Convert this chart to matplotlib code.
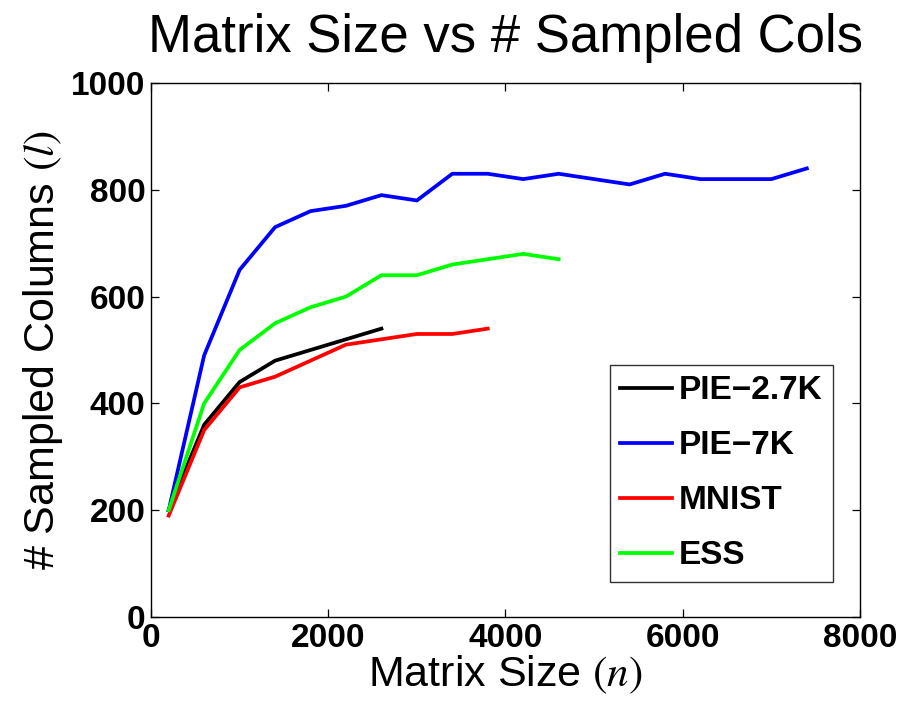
import numpy as np
import matplotlib
matplotlib.use('Agg')
import matplotlib.pyplot as plt

# matrix size n for each run
n_pie27 = [200, 600, 1000, 1400, 1800, 2200, 2600]
l_pie27 = [200, 360, 440, 480, 500, 520, 540]

n_pie7 = [200, 600, 1000, 1400, 1800, 2200, 2600, 3000, 3400, 3800, 4200,
          4600, 5000, 5400, 5800, 6200, 6600, 7000, 7400]
l_pie7 = [200, 490, 650, 730, 760, 770, 790, 780, 830, 830, 820,
          830, 820, 810, 830, 820, 820, 820, 840]

n_mnist = [200, 600, 1000, 1400, 1800, 2200, 2600, 3000, 3400, 3800]
l_mnist = [190, 350, 430, 450, 480, 510, 520, 530, 530, 540]

n_ess = [200, 600, 1000, 1400, 1800, 2200, 2600, 3000, 3400, 3800, 4200, 4600]
l_ess = [200, 400, 500, 550, 580, 600, 640, 640, 660, 670, 680, 670]

labels = ['PIE\u22122.7K', 'PIE\u22127K', 'MNIST', 'ESS']

plt.rcParams['font.family'] = ['Liberation Sans', 'DejaVu Sans']
plt.rcParams['mathtext.fontset'] = 'stix'

hf1 = plt.figure(figsize = (9.03, 7.05), facecolor = 'w', dpi = 100)
ax = hf1.add_axes([0.1672, 0.1248, 0.7852, 0.7575])

ax.plot(n_pie27, l_pie27, c = 'k', lw = 2.7, label = labels[0])
ax.plot(n_pie7, l_pie7, c = 'b', lw = 2.7, label = labels[1])
ax.plot(n_mnist, l_mnist, c = 'r', lw = 2.7, label = labels[2])
ax.plot(n_ess, l_ess, c = (0, 1, 0), lw = 2.7, label = labels[3])

ax.set_xlim(0, 8000)
ax.set_ylim(0, 1000)
ax.set_xticks([0, 2000, 4000, 6000, 8000])
ax.set_yticks([0, 200, 400, 600, 800, 1000])
ax.tick_params(direction = 'in', top = True, right = True, length = 6, width = 0.9,
               labelsize = 24, pad = 4)
for t in ax.get_xticklabels() + ax.get_yticklabels():
	t.set_fontweight('bold')
for s in ax.spines.values():
	s.set_linewidth(1.0)

ax.set_title('Matrix Size vs # Sampled Cols', fontsize = 38, pad = 22)
ax.set_xlabel(r'Matrix Size $(\mathit{n})$', fontsize = 31, labelpad = 0)
ax.set_ylabel(r'# Sampled Columns $(\mathit{l})$', fontsize = 31, labelpad = 4)

leg = ax.legend(loc = 'lower right', bbox_to_anchor = (0.962, 0.0655),
                borderaxespad = 0, fancybox = False, frameon = True,
                prop = {'weight': 'bold', 'size': 24}, handlelength = 1.55,
                handletextpad = 0.2, labelspacing = 0.72, borderpad = 0.32)
leg.get_frame().set_edgecolor('k')
leg.get_frame().set_linewidth(1.0)

hf1.savefig('out.png')
plt.close(hf1)
